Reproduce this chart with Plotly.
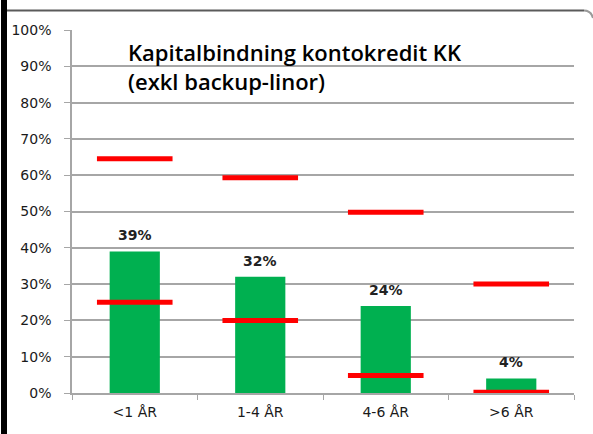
import plotly.graph_objects as go

categories = ["<1 ÅR", "1-4 ÅR", "4-6 ÅR", ">6 ÅR"]
share = [39, 32, 24, 4]
upper = [64.5, 59.3, 49.8, 30.0]
lower = [25.0, 20.0, 4.8, 0.2]
y_ticks = list(range(0, 101, 10))
y_tick_labels = [f"{v}%" for v in y_ticks]
title_lines = ["Kapitalbindning kontokredit KK", "(exkl backup-linor)"]

W, H = 593, 434
L, R, T, B = 72, 19, 30, 41
pw, ph = W - L - R, H - T - B

def px(x):
    return (x - L) / pw

def py(y):
    return (H - B - y) / ph

fig = go.Figure()
fig.add_trace(go.Bar(x=categories, y=share, marker_color="#00B050",
                     marker_line_width=0, width=0.4, showlegend=False,
                     hoverinfo="skip"))
for vals in (upper, lower):
    fig.add_trace(go.Scatter(x=categories, y=vals, mode="markers",
                             marker=dict(symbol="line-ew", size=54,
                                         line=dict(color="#FF0000", width=5)),
                             showlegend=False, hoverinfo="skip"))

for c, v in zip(categories, share):
    fig.add_annotation(x=c, y=v, text=f"{v}%", showarrow=False,
                       yanchor="bottom", yshift=6,
                       font=dict(family="DejaVu Sans", size=14, color="#222222", weight="bold"))

fig.add_annotation(xref="paper", yref="paper", x=px(126), y=py(35),
                   xanchor="left", yanchor="top", align="left",
                   text="<br>".join(title_lines), showarrow=False,
                   font=dict(family="Open Sans", size=22, color="#000000", weight=600))

# frame decorations
fig.add_shape(type="rect", xref="paper", yref="paper",
              x0=px(1), x1=px(7), y0=py(434), y1=py(0),
              fillcolor="#000000", line_width=0, layer="above")
fig.add_shape(type="line", xref="paper", yref="paper",
              x0=px(7), x1=px(584), y0=py(10.5), y1=py(10.5),
              line=dict(color="#5a5a5a", width=2))
fig.add_shape(type="path", xref="paper", yref="paper",
              path=f"M {px(584)},{py(10.5)} Q {px(591)},{py(10.5)} {px(593)},{py(18)}",
              line=dict(color="#9a9a9a", width=2))

fig.update_layout(
    width=W, height=H,
    margin=dict(l=L, r=R, t=T, b=B, pad=0),
    paper_bgcolor="white", plot_bgcolor="white",
    bargap=0.6,
    font=dict(family="DejaVu Sans", size=14, color="#1a1a1a"),
    xaxis=dict(showline=True, linecolor="#a6a6a6", linewidth=1.5,
               ticks="outside", tickson="boundaries", ticklen=5,
               tickcolor="#a6a6a6", showgrid=False, zeroline=False,
               ticklabelstandoff=5,
               tickfont=dict(size=14), fixedrange=True),
    yaxis=dict(range=[0, 100], tickvals=y_ticks, ticktext=y_tick_labels,
               showline=True, linecolor="#a6a6a6", linewidth=1.5,
               ticks="outside", ticklen=6, tickcolor="#a6a6a6",
               showgrid=True, gridcolor="#a6a6a6", gridwidth=1.5,
               zeroline=False, ticklabelstandoff=10,
               tickfont=dict(size=14), fixedrange=True),
)

fig.write_html("out.html", config={"displayModeBar": False},
               post_script="document.body.style.margin='0px';document.body.style.overflow='hidden';")
